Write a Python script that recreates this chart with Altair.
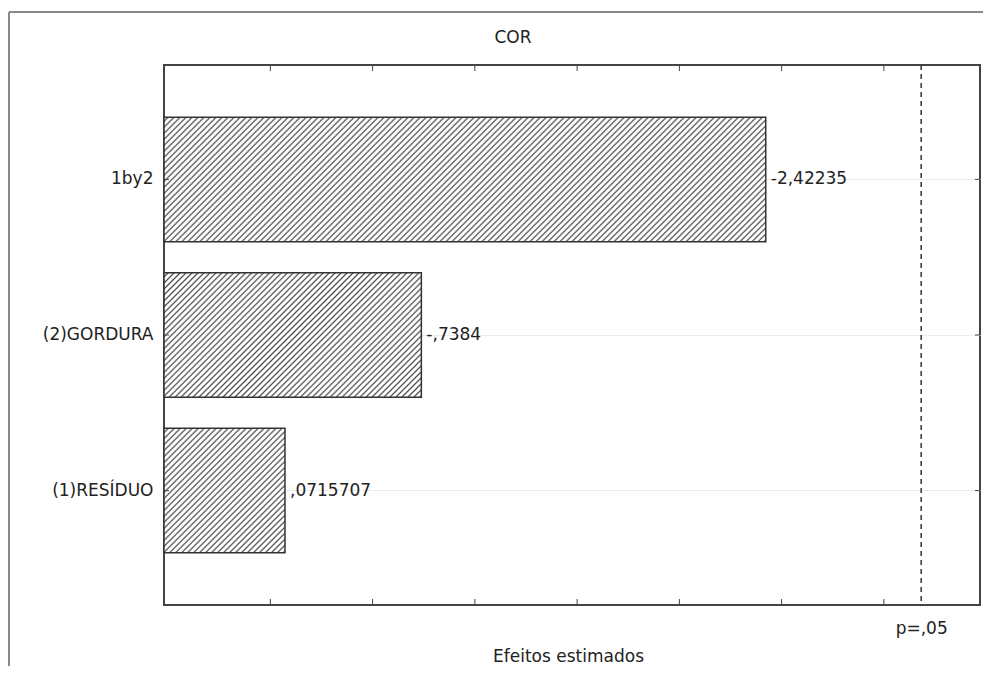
import altair as alt
import pandas as pd

# ---- data ----
terms = ["1by2", "(2)GORDURA", "(1)RESÍDUO"]
effect_values = [-2.42235, -0.7384, 0.0715707]
effect_labels = ["-2,42235", "-,7384", ",0715707"]
tick_values = [0, 0.5, 1.0, 1.5, 2.0, 2.5, 3.0]
p_critical = 3.182446
p_label = "p=,05"
x_domain = [-0.52, 3.47]

FONT = "DejaVu Sans"
FS = 17
W, H = 816, 540
PAD = {"left": 156, "top": 57, "right": 3, "bottom": 61}

df = pd.DataFrame({
    "term": terms,
    "effect": [abs(v) for v in effect_values],
    "label": effect_labels,
})

xscale = alt.Scale(domain=x_domain, nice=False, zero=False)
yscale = alt.Scale(domain=terms, paddingInner=0.2, paddingOuter=0.335)

x_axis = alt.Axis(values=[p_critical], labelExpr=f"'{p_label}'",
                  ticks=False, domain=False, grid=False,
                  labelPadding=15, labelFont=FONT, labelFontSize=FS,
                  labelColor="#222", title="Efeitos estimados",
                  titleFont=FONT, titleFontSize=FS, titleFontWeight="normal",
                  titleColor="#222", titlePadding=12, titleX=404)
y_axis = alt.Axis(title=None, ticks=False, domain=False, labelPadding=11,
                  labelFont=FONT, labelFontSize=FS, labelColor="#222",
                  grid=True, gridColor="#ececec")

step = H / (len(terms) - 0.2 + 2 * 0.335)
band_h = step * 0.8


def hatch(width_px, height_px, period=6.0, ink="#4a4a4a", paper="#ffffff"):
    total = width_px + height_px
    n = max(1, int(round(total / period)))
    a = total / (width_px ** 2 + height_px ** 2)
    stops = []
    for k in range(n):
        stops += [
            alt.GradientStop(color=paper, offset=k / n),
            alt.GradientStop(color=paper, offset=(k + 0.42) / n),
            alt.GradientStop(color=ink, offset=(k + 0.72) / n),
            alt.GradientStop(color=paper, offset=(k + 1.0) / n),
        ]
    return alt.LinearGradient(gradient="linear", stops=stops,
                              x1=0, y1=0, x2=a * width_px, y2=a * height_px)


base = alt.Chart(df)
X = alt.X("effect:Q", scale=xscale, axis=x_axis)
Y = alt.Y("term:N", scale=yscale, sort=terms, axis=y_axis)

layers = []
for i, t in enumerate(terms):
    val = abs(effect_values[i])
    wpx = (val - x_domain[0]) / (x_domain[1] - x_domain[0]) * W
    layers.append(
        base.transform_filter(alt.datum.term == t)
        .mark_bar(fill=hatch(wpx, band_h), stroke="#333333", strokeWidth=1.5)
        .encode(x=X, x2=alt.datum(x_domain[0]), y=Y)
    )

labels = base.mark_text(align="left", baseline="middle", dx=5, font=FONT,
                        fontSize=FS, color="#222").encode(x=X, y=Y, text="label:N")

ytick_left = base.mark_rule(color="#444", strokeWidth=1).encode(
    y=Y, x=alt.value(0), x2=alt.value(5))
ytick_right = base.mark_rule(color="#444", strokeWidth=1).encode(
    y=Y, x=alt.value(W - 5), x2=alt.value(W))

pline = alt.Chart(pd.DataFrame({"p": [p_critical]})).mark_rule(
    color="#333", strokeWidth=1.5, strokeDash=[5, 4]).encode(
    x=alt.X("p:Q", scale=xscale, axis=x_axis))

tdf = pd.DataFrame({"t": tick_values})
top_ticks = alt.Chart(tdf).mark_rule(color="#444", strokeWidth=1).encode(
    x=alt.X("t:Q", scale=xscale, axis=x_axis), y=alt.value(0), y2=alt.value(6))
bot_ticks = alt.Chart(tdf).mark_rule(color="#444", strokeWidth=1).encode(
    x=alt.X("t:Q", scale=xscale, axis=x_axis), y=alt.value(H - 6), y2=alt.value(H))

one = pd.DataFrame({"a": [0]})
frame_left = alt.Chart(one).mark_rule(color="#888", strokeWidth=2).encode(
    x=alt.value(-PAD["left"] + 1), y=alt.value(-53), y2=alt.value(H + PAD["bottom"]))
frame_top = alt.Chart(one).mark_rule(color="#888", strokeWidth=2).encode(
    x=alt.value(-PAD["left"] + 1), x2=alt.value(W + PAD["right"]), y=alt.value(-53))
title = alt.Chart(one).mark_text(font=FONT, fontSize=FS, color="#222",
                                 baseline="middle", align="center").encode(
    x=alt.value(349), y=alt.value(-27), text=alt.value("COR"))

chart = alt.layer(*layers, labels, ytick_left, ytick_right, pline, top_ticks, bot_ticks,
                  frame_left, frame_top, title).properties(
    width=W, height=H,
    autosize=alt.AutoSizeParams(type="none"),
    padding=PAD,
    background="white",
).configure_view(stroke="#444", strokeWidth=2)

chart.save("out.html", embed_options={"renderer": "svg", "actions": False})
